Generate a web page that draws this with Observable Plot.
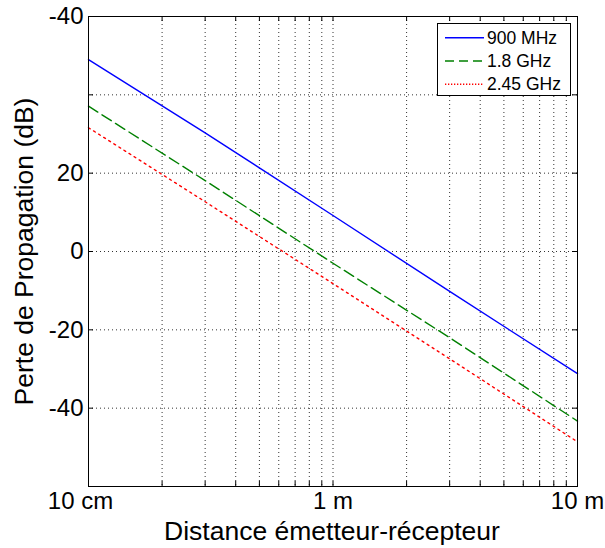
<!DOCTYPE html>
<html><head><meta charset="utf-8">
<script src="https://cdn.jsdelivr.net/npm/d3@7"></script>
<script src="https://cdn.jsdelivr.net/npm/@observablehq/plot@0.6"></script>
<style>body{margin:0;background:#fff}#chart{width:605px;height:548px}</style>
</head><body><div id="chart"></div>
<script>
// ---- data ----
const distances = [0.1, 0.3, 1, 3, 10];              // metres
const loss900 = [49.0, 30.3, 9.2, -10.2, -31.2];     // dB
const loss1800 = [37.1, 18.1, -3.0, -22.0, -43.3];
const loss2450 = [31.6, 12.7, -8.2, -27.4, -48.6];
const seriesNames = ["900 MHz", "1.8 GHz", "2.45 GHz"];
const xTickValues = [0.1, 1, 10];
const xTickLabels = ["10 cm", "1 m", "10 m"];
const xMinorValues = [0.2, 0.3, 0.4, 0.5, 0.6, 0.7, 0.8, 0.9, 2, 3, 4, 5, 6, 7, 8, 9];
const yTickValues = [60, 40, 20, 0, -20, -40];
const yTickLabels = ["-40", "", "20", "0", "-20", "-40"];
const xTitle = "Distance émetteur-récepteur";
const yTitle = "Perte de Propagation (dB)";

// ---- styling ----
const FONT = "'Liberation Sans', Arial, Helvetica, sans-serif";
const W = 605, H = 548, mL = 88, mR = 28, mT = 16, mB = 62;
const innerW = W - mL - mR, innerH = H - mT - mB;
const styles = [
  {stroke: "#0000ff", dash: null, legendDash: null},
  {stroke: "#008000", dash: "11,5", legendDash: "9,5"},
  {stroke: "#ff0000", dash: "2,4", legendDash: "1.3,1.7"}
];
const xLabelShift = [-8, 0, 0];
const seriesValues = [loss900, loss1800, loss2450];
const rows = vals => distances.map((d, i) => ({d, v: vals[i]}));
const gridStyle = {stroke: "#333", strokeDasharray: "1,3", strokeWidth: 1};

const chart = Plot.plot({
  width: W, height: H,
  marginLeft: mL, marginRight: mR, marginTop: mT, marginBottom: mB,
  x: {type: "log", domain: [0.1, 10]},
  y: {domain: [-60, 60]},
  style: {fontFamily: FONT, background: "#fff", color: "#000", overflow: "visible"},
  marks: [
    Plot.ruleX(xMinorValues.concat([1]), {x: d => d, ...gridStyle}),
    Plot.ruleY(yTickValues.filter(v => v > -60 && v < 60), {y: d => d, ...gridStyle}),
    ...seriesValues.map((vals, i) => Plot.line(rows(vals), {
      x: "d", y: "v", stroke: styles[i].stroke, strokeWidth: 1.4,
      strokeDasharray: styles[i].dash
    })),
    Plot.frame({stroke: "#000", strokeWidth: 1}),
    Plot.tickX(xTickValues.concat(xMinorValues), {x: d => d, insetTop: innerH - 5, stroke: "#000"}),
    Plot.tickX(xTickValues.concat(xMinorValues), {x: d => d, insetBottom: innerH - 5, stroke: "#000"}),
    Plot.tickY(yTickValues, {y: d => d, insetRight: innerW - 5, stroke: "#000"}),
    Plot.tickY(yTickValues, {y: d => d, insetLeft: innerW - 5, stroke: "#000"}),
    ...xTickValues.map((v, i) => Plot.axisX([v], {tickSize: 0, tickPadding: 5, fontSize: 24,
      label: null, dx: xLabelShift[i], tickFormat: () => xTickLabels[i]})),
    Plot.axisY(yTickValues, {tickSize: 0, tickPadding: 5, fontSize: 24, label: null,
      tickFormat: d => yTickLabels[yTickValues.indexOf(d)]}),
    Plot.text([xTitle], {frameAnchor: "bottom", textAnchor: "middle", lineAnchor: "middle",
      dy: 45, dx: -1, fontSize: 26.5}),
    Plot.text([yTitle], {frameAnchor: "left", textAnchor: "middle", lineAnchor: "middle",
      rotate: -90, dx: -64, fontSize: 26.5})
  ]
});

// ---- legend (inside the plot, top right) ----
const svg = d3.select(chart);
const lg = svg.append("g").attr("font-family", FONT).attr("font-size", 17.5)
  .attr("text-anchor", "start");
lg.append("rect").attr("x", 437.5).attr("y", 23.5).attr("width", 133).attr("height", 72)
  .attr("fill", "#fff").attr("stroke", "#000").attr("stroke-width", 1);
seriesNames.forEach((name, i) => {
  const y = 37.7 + i * 23.3;
  lg.append("line").attr("x1", 445).attr("x2", 484).attr("y1", y).attr("y2", y)
    .attr("stroke", styles[i].stroke).attr("stroke-width", 1.4)
    .attr("stroke-dasharray", styles[i].legendDash);
  lg.append("text").attr("x", 487).attr("y", y).attr("dy", "0.35em")
    .attr("text-anchor", "start").text(name);
});

document.getElementById("chart").appendChild(chart);
</script>
</body></html>
